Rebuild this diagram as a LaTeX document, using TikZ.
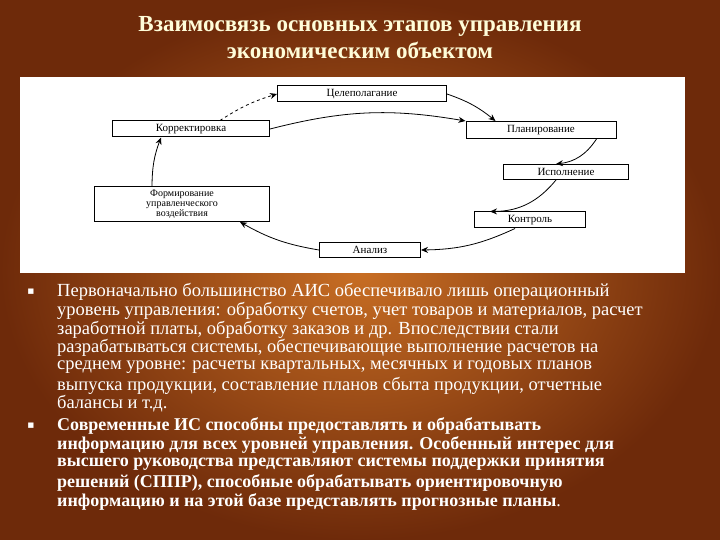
\documentclass[tikz,border=0pt]{standalone}
\usepackage{fontspec}
\setmainfont{Liberation Serif}
\newfontfamily\dv{DejaVu Sans}
\usetikzlibrary{arrows.meta}
\definecolor{bgin}{RGB}{200,110,36}
\definecolor{bgout}{RGB}{110,42,10}
\begin{document}
\begin{tikzpicture}[x=1pt,y=-1pt,
 bx/.style={draw=black,line width=1pt,fill=white,inner sep=0pt,font=\fontsize{11}{11}\selectfont,align=center},
 ar/.style={-{Stealth[length=7pt,width=6pt]},thick},
 ln/.style={anchor=west,inner sep=0pt,text=white,font=\fontsize{18.5}{18.5}\selectfont}]
\shade[inner color=bgin,outer color=bgout] (0,0) rectangle (720,540);
\useasboundingbox (0,0) rectangle (720,540);
\node[text=white!85!yellow,font=\bfseries\fontsize{23}{27}\selectfont,align=center] (t) at (360,38) {Взаимосвязь основных этапов управления\\экономическим объектом};
\fill[white] (20,77) rectangle (685,273);
\node[bx,minimum width=169,minimum height=16] (c) at (362,94) {Целеполагание};
\node[bx,minimum width=157,minimum height=16] (k) at (191,129) {Корректировка};
\node[bx,minimum width=150,minimum height=17] (p) at (541,130) {Планирование};
\node[bx,minimum width=125,minimum height=15] (i) at (566,172) {Исполнение};
\node[bx,minimum width=175,minimum height=35,font=\fontsize{10}{10}\selectfont] (f) at (182,204) {Формирование\\управленческого\\воздействия};
\node[bx,minimum width=111,minimum height=16] (kn) at (530,220) {Контроль};
\node[bx,minimum width=101,minimum height=15] (a) at (370,250) {Анализ};
\draw[ar] (c.east) to[bend left=10] ([xshift=30]p.north west);
\draw[ar] (k.east) to[bend left=12] (p.north west);
\draw[ar,dashed] ([xshift=-50]k.north east) to[bend left=8] (c.west);
\draw[ar] ([xshift=-20]p.south east) to[bend left=25] ([xshift=-10]i.north);
\draw[ar] ([xshift=-10]i.south) to[bend left=25] ([xshift=-40]kn.north);
\draw[ar] ([xshift=-15]kn.south) to[bend left=12] (a.east);
\draw[ar] (a.west) to[bend left=10] ([xshift=-30]f.south east);
\draw[ar] ([xshift=-30]f.north) to[bend left=10] ([xshift=-30]k.south);
\node[text=white,font=\dv\fontsize{7}{7}\selectfont] (b1) at (31,292) {■};
\node[text=white,font=\dv\fontsize{7}{7}\selectfont] (b2) at (31,426) {■};
\node[ln] (l1) at (57,292) {Первоначально большинство АИС обеспечивало лишь операционный};
\node[ln] (l2) at (57,311) {уровень управления: обработку счетов, учет товаров и материалов, расчет};
\node[ln] (l3) at (57,330) {заработной платы, обработку заказов и др. Впоследствии стали};
\node[ln] (l4) at (57,348) {разрабатываться системы, обеспечивающие выполнение расчетов на};
\node[ln] (l5) at (57,367) {среднем уровне: расчеты квартальных, месячных  и годовых планов};
\node[ln] (l6) at (57,386) {выпуска продукции, составление планов сбыта продукции, отчетные};
\node[ln] (l7) at (57,404) {балансы и т.д.};
\begin{scope}[ln/.append style={font=\bfseries\fontsize{18}{18}\selectfont}]
\node[ln] (m1) at (57,426) {Современные ИС способны предоставлять и обрабатывать};
\node[ln] (m2) at (57,445) {информацию для всех уровней управления. Особенный интерес для};
\node[ln] (m3) at (57,464) {высшего руководства представляют системы поддержки принятия};
\node[ln] (m4) at (57,483) {решений (СППР), способные обрабатывать ориентировочную};
\node[ln] (m5) at (57,502) {информацию и на этой базе представлять прогнозные планы{\mdseries .}};
\end{scope}
\end{tikzpicture}
\end{document}
